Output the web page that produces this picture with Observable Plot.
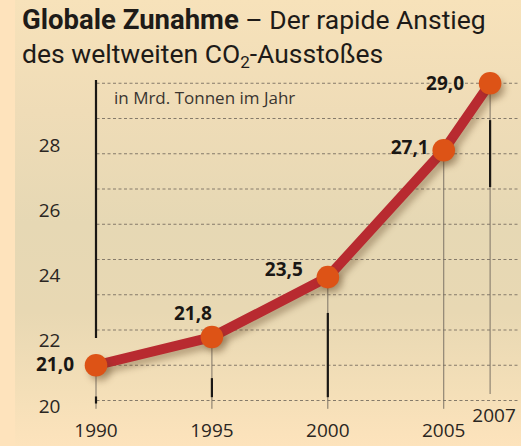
<!DOCTYPE html>
<html>
<head>
<meta charset="utf-8">
<script src="https://cdn.jsdelivr.net/npm/d3@7"></script>
<script src="https://cdn.jsdelivr.net/npm/@observablehq/plot@0.6"></script>
<style>
  html, body { margin: 0; padding: 0; }
  body { width: 521px; height: 446px; overflow: hidden; font-family: "Open Sans", sans-serif; }
  #wrap {
    position: relative; width: 521px; height: 446px;
    background: linear-gradient(to bottom, #f7e2ba 0%, #efdcb7 25%, #e6d8b4 50%, #e8d8b3 70%, #f4dfb8 88%, #fde3bc 100%);
  }
  #strip { position: absolute; left: 0; top: 0; width: 15px; height: 446px; background: #fee3bc; }
  .tline {
    position: absolute; left: 22px; color: #1e1b18; white-space: nowrap;
    font-family: Roboto, sans-serif; line-height: 34px;
  }
  #t1 { top: 3px; }
  #t2 { top: 37px; }
  .bold { font-weight: 700; font-size: 27.5px; }
  .reg { font-weight: 400; font-size: 26.5px; }
  .reg sub { font-size: 17px; vertical-align: -5px; line-height: 0; }
  #chart { position: absolute; left: 0; top: 0; }
  #chart svg { background: transparent !important; }
</style>
</head>
<body>
<div id="wrap">
  <div id="strip"></div>
  <div id="chart"></div>
  <div class="tline" id="t1"><span class="bold">Globale Zunahme</span><span class="reg"> – Der rapide Anstieg</span></div>
  <div class="tline" id="t2"><span class="reg">des weltweiten CO<sub>2</sub>-Ausstoßes</span></div>
</div>
<script>
// ---- data ----
const years = [1990, 1995, 2000, 2005, 2007];
const emissions = [21.0, 21.8, 23.5, 27.1, 29.0];
const yTickLabels = [20, 22, 24, 26, 28];
const gridValues = [20, 21, 22, 23, 24, 25, 26, 27, 28, 29];
const unitLabel = "in Mrd. Tonnen im Jahr";
// thin stems reach down to these values
const stemBottoms = [19.75, 19.75, 19.75, 19.75, 20.17];
// black decorative segments (year, from, to) in data units
const segYears = [1990, 1990, 1995, 2000, 2007];
const segFrom = [21.76, 19.9, 20.08, 20.08, 26.04];
const segTo = [29.08, 20.1, 20.62, 22.47, 27.94];

const data = years.map((y, i) => ({year: y, value: emissions[i], bottom: stemBottoms[i]}));
const segs = segYears.map((y, i) => ({year: y, from: segFrom[i], to: segTo[i]}));
const fmt = v => v.toFixed(1).replace(".", ",");

// the printed tick labels sit on a slightly compressed scale relative to the grid
const labelPos = d3.scaleLinear([20, 28], [19.83, 27.23]);

// per-label offsets (style)
const valueLabelStyle = [
  {textAnchor: "end", dx: -22, dy: 0},
  {textAnchor: "middle", dx: -19, dy: -23},
  {textAnchor: "end", dx: -25, dy: -7},
  {textAnchor: "end", dx: -15, dy: -2},
  {textAnchor: "end", dx: -26, dy: 1}
];

const txt = "#2a2622";
const marks = [
  Plot.ruleY(gridValues, {y: d => d, stroke: "#857a6a", strokeWidth: 1, strokeDasharray: "3,2.5", insetRight: -28, insetLeft: 1}),
  Plot.ruleX(data, {x: "year", y1: "bottom", y2: "value", stroke: "#7d7366", strokeWidth: 1}),
  Plot.ruleX(segs, {x: "year", y1: "from", y2: "to", stroke: "#1a1714", strokeWidth: 2.2}),
  Plot.line(data, {x: "year", y: "value", stroke: "#b82a30", strokeWidth: 10, strokeLinejoin: "round"}),
  Plot.dot(data, {x: "year", y: "value", r: 11.3, fill: "#dd5316", stroke: "none"}),
  Plot.text(yTickLabels, {y: d => labelPos(d), text: d => String(d), frameAnchor: "left", dx: -46.5, textAnchor: "middle", fontSize: 19, fill: txt}),
  Plot.text(data.filter(d => d.year !== 2007), {x: "year", y: 20, text: d => String(d.year), dy: 30, fontSize: 19, fill: txt}),
  Plot.text(data.filter(d => d.year === 2007), {x: "year", y: 20, text: d => String(d.year), dy: 15, dx: 4, fontSize: 19, fill: txt}),
  Plot.text([unitLabel], {x: 1990, y: 29, text: d => d, dy: 15, dx: 18, textAnchor: "start", fontSize: 17, fill: "#3a3530"}),
  ...data.map((d, i) => Plot.text([d], {x: "year", y: "value", text: d => fmt(d.value), fontWeight: "bold", fontSize: 19, fill: "#1a1714", ...valueLabelStyle[i]}))
];

const chart = Plot.plot({
  width: 521,
  height: 446,
  marginLeft: 95.5,
  marginRight: 31.4,
  marginTop: 82.75,
  marginBottom: 46,
  style: {background: "transparent", fontFamily: "Open Sans, sans-serif", overflow: "visible"},
  x: {domain: [1990, 2007], axis: null},
  y: {domain: [20, 29], axis: null},
  marks
});
document.getElementById("chart").appendChild(chart);

// soft drop shadows for line and dots
chart.querySelectorAll('g[aria-label="line"], g[aria-label="dot"]').forEach(g => {
  g.style.filter = "drop-shadow(4px 5px 3px rgba(90,60,30,0.35))";
});
</script>
</body>
</html>
